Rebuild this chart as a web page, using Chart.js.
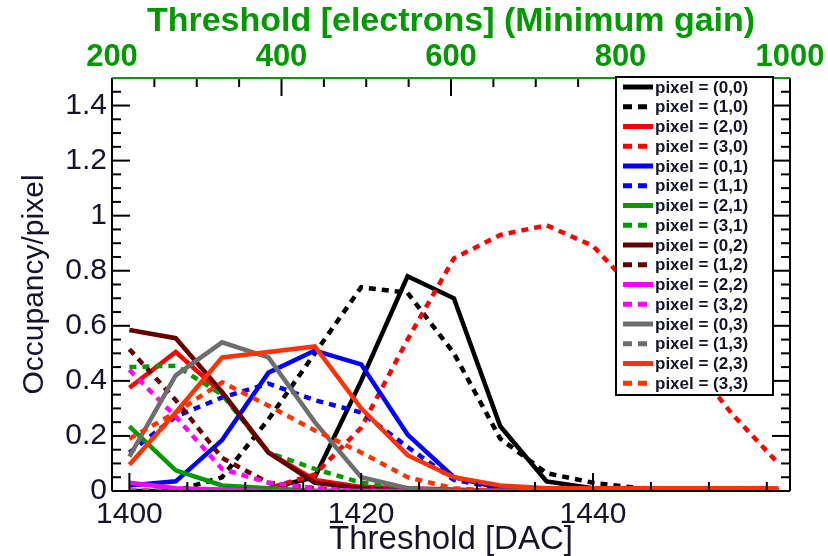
<!DOCTYPE html>
<html>
<head>
<meta charset="utf-8">
<title>Occupancy vs threshold</title>
<script src="https://cdn.jsdelivr.net/npm/chart.js@4.4.1/dist/chart.umd.min.js"></script>
<style>
  html, body { margin: 0; padding: 0; background: #ffffff; }
  #wrap { width: 828px; height: 556px; }
</style>
</head>
<body>
<div id="wrap"><canvas id="occChart" width="828" height="556"></canvas></div>
<script>
/* ===== Data ===== */
const thresholdDac = [1400, 1404, 1408, 1412, 1416, 1420, 1424, 1428, 1432, 1436, 1440, 1444, 1448, 1452, 1456];

const dacTicks = [1400, 1420, 1440];
const electronTicks = [200, 400, 600, 800, 1000];
const occupancyTicks = [0, 0.2, 0.4, 0.6, 0.8, 1, 1.2, 1.4];

const pixel00 = [0, 0, 0, 0.01, 0.05, 0.40, 0.78, 0.70, 0.235, 0.035, 0.01, 0.005, 0.005, 0.005, 0.005];
const pixel10 = [0, 0, 0.05, 0.26, 0.50, 0.74, 0.72, 0.50, 0.19, 0.065, 0.03, 0.01, 0.005, 0, 0];
const pixel20 = [0.375, 0.505, 0.355, 0.14, 0.04, 0.015, 0.01, 0.005, 0, 0, 0, 0, 0, 0, 0];
const pixel30 = [0, 0, 0, 0.01, 0.06, 0.23, 0.55, 0.845, 0.93, 0.965, 0.89, 0.71, 0.49, 0.28, 0.10];
const pixel01 = [0.02, 0.035, 0.185, 0.43, 0.51, 0.46, 0.205, 0.05, 0.01, 0, 0, 0, 0, 0, 0];
const pixel11 = [0.14, 0.27, 0.34, 0.39, 0.33, 0.285, 0.16, 0.04, 0.01, 0, 0, 0, 0, 0, 0];
const pixel21 = [0.235, 0.075, 0.02, 0.01, 0, 0, 0, 0, 0, 0, 0, 0, 0, 0, 0];
const pixel31 = [0.45, 0.455, 0.35, 0.14, 0.08, 0.03, 0.01, 0, 0, 0, 0, 0, 0, 0, 0];
const pixel02 = [0.585, 0.555, 0.36, 0.14, 0.03, 0.01, 0, 0, 0, 0, 0, 0, 0, 0, 0];
const pixel12 = [0.515, 0.33, 0.12, 0.03, 0.01, 0, 0, 0, 0, 0, 0, 0, 0, 0, 0];
const pixel22 = [0.03, 0.01, 0.005, 0, 0, 0, 0, 0, 0, 0, 0, 0, 0, 0, 0];
const pixel32 = [0.44, 0.27, 0.08, 0.03, 0.01, 0, 0, 0, 0, 0, 0, 0, 0, 0, 0];
const pixel03 = [0.125, 0.42, 0.54, 0.485, 0.25, 0.05, 0.01, 0, 0, 0, 0, 0, 0, 0, 0];
const pixel13 = [0, 0, 0, 0, 0, 0, 0, 0, 0, 0, 0, 0, 0, 0, 0];
const pixel23 = [0.095, 0.285, 0.485, 0.505, 0.525, 0.30, 0.13, 0.05, 0.02, 0.01, 0.01, 0.01, 0.01, 0.01, 0.01];
const pixel33 = [0.19, 0.285, 0.395, 0.31, 0.22, 0.14, 0.05, 0.01, 0, 0, 0, 0, 0, 0, 0];

/* ===== Styles ===== */
const FONT = "'Liberation Sans', Arial, sans-serif";
const GREEN = "#009a00";
const TEXT = "#14142b";

const series = [
  { label: "pixel = (0,0)", values: pixel00, color: "#000000", dotted: false },
  { label: "pixel = (1,0)", values: pixel10, color: "#000000", dotted: true },
  { label: "pixel = (2,0)", values: pixel20, color: "#ff0000", dotted: false },
  { label: "pixel = (3,0)", values: pixel30, color: "#ff0000", dotted: true },
  { label: "pixel = (0,1)", values: pixel01, color: "#0000ff", dotted: false },
  { label: "pixel = (1,1)", values: pixel11, color: "#0000ff", dotted: true },
  { label: "pixel = (2,1)", values: pixel21, color: "#009900", dotted: false },
  { label: "pixel = (3,1)", values: pixel31, color: "#009900", dotted: true },
  { label: "pixel = (0,2)", values: pixel02, color: "#660000", dotted: false },
  { label: "pixel = (1,2)", values: pixel12, color: "#660000", dotted: true },
  { label: "pixel = (2,2)", values: pixel22, color: "#ff00ff", dotted: false },
  { label: "pixel = (3,2)", values: pixel32, color: "#ff00ff", dotted: true },
  { label: "pixel = (0,3)", values: pixel03, color: "#6e6e6e", dotted: false },
  { label: "pixel = (1,3)", values: pixel13, color: "#6e6e6e", dotted: true },
  { label: "pixel = (2,3)", values: pixel23, color: "#ff3300", dotted: false },
  { label: "pixel = (3,3)", values: pixel33, color: "#ff3300", dotted: true },
];

const datasets = series.map((s, i) => ({
  label: s.label,
  data: thresholdDac.map((dac, k) => ({ x: dac, y: s.values[k] })),
  borderColor: s.color,
  backgroundColor: s.color,
  borderWidth: 4.5,
  borderDash: s.dotted ? [7, 6] : [],
  pointRadius: 0,
  tension: 0,
  fill: false,
  order: series.length - i, // later pixels on top, like ROOT
}));

/* ===== Helpers ===== */
function stepValues(min, max, step) {
  const out = [];
  for (let v = Math.ceil(min / step - 1e-9) * step; v <= max + 1e-9; v += step) out.push(v);
  return out;
}

function isMajor(v, step) {
  const r = Math.abs(v / step - Math.round(v / step));
  return r < 1e-6;
}

function line(ctx, x1, y1, x2, y2) {
  ctx.beginPath();
  ctx.moveTo(x1, y1);
  ctx.lineTo(x2, y2);
  ctx.stroke();
}

/* ===== Plugins ===== */
// ROOT-style frame with ticks pointing inward
const frameTicks = {
  id: "frameTicks",
  afterDatasetsDraw(chart) {
    const { ctx, chartArea, scales } = chart;
    const { left, right, top, bottom } = chartArea;
    const MAJ = 18, MIN = 9;
    ctx.save();
    ctx.lineWidth = 2;
    ctx.strokeStyle = "#000000";

    stepValues(scales.x.min, scales.x.max, 5).forEach((v) => {
      const px = scales.x.getPixelForValue(v);
      line(ctx, px, bottom, px, bottom - (isMajor(v, 20) ? MAJ : MIN));
    });
    stepValues(scales.x2.min, scales.x2.max, 50).forEach((v) => {
      const px = scales.x2.getPixelForValue(v);
      line(ctx, px, top, px, top + (isMajor(v, 200) ? MAJ : MIN));
    });
    stepValues(scales.y.min, scales.y.max, 0.05).forEach((v) => {
      const py = scales.y.getPixelForValue(v);
      const len = isMajor(v, 0.2) ? MAJ : MIN;
      line(ctx, left, py, left + len, py);
      line(ctx, right, py, right - len, py);
    });

    line(ctx, left, top, left, bottom);
    line(ctx, left, bottom, right, bottom);
    line(ctx, right, top, right, bottom);
    ctx.strokeStyle = GREEN;
    line(ctx, left, top, right, top);
    ctx.restore();
  },
};

// legend box inside the frame, top right
const boxLegend = {
  id: "boxLegend",
  afterDraw(chart) {
    const { ctx } = chart;
    const x0 = 616, y0 = 77, w = 157, rowH = 19.75;
    const items = chart.data.datasets;
    const h = rowH * items.length + 2;
    ctx.save();
    ctx.fillStyle = "#ffffff";
    ctx.fillRect(x0, y0, w, h);
    ctx.lineWidth = 2;
    ctx.strokeStyle = "#000000";
    ctx.strokeRect(x0, y0, w, h);
    ctx.font = `bold 17px ${FONT}`;
    ctx.textBaseline = "middle";
    items.forEach((ds, i) => {
      const cy = y0 + 10 + i * rowH;
      ctx.strokeStyle = ds.borderColor;
      ctx.lineWidth = 5;
      ctx.setLineDash(ds.borderDash.length ? [9, 6] : []);
      line(ctx, 623, cy, 653, cy);
      ctx.setLineDash([]);
      ctx.fillStyle = TEXT;
      ctx.fillText(ds.label, 655, cy + 1);
    });
    ctx.restore();
  },
};

/* ===== Chart ===== */
const canvas = document.getElementById("occChart");
const occChart = new Chart(canvas.getContext("2d"), {
  type: "line",
  data: { datasets },
  options: {
    responsive: false,
    animation: false,
    devicePixelRatio: 1,
    layout: { padding: { left: 0, right: 38, top: 0, bottom: 0 } },
    plugins: { legend: { display: false }, tooltip: { enabled: false } },
    scales: {
      x: {
        type: "linear",
        position: "bottom",
        min: 1398.5,
        max: 1457,
        grid: { display: false, drawTicks: false },
        border: { display: false },
        afterBuildTicks: (s) => { s.ticks = dacTicks.map((v) => ({ value: v })); },
        afterFit: (s) => { s.height = 65; },
        ticks: {
          autoSkip: false,
          maxRotation: 0,
          padding: 6,
          color: TEXT,
          font: { family: FONT, size: 30 },
          callback: (v) => String(v),
        },
        title: {
          display: true,
          text: "Threshold [DAC]",
          color: TEXT,
          font: { family: FONT, size: 33, lineHeight: 1 },
          padding: 0,
        },
      },
      x2: {
        type: "linear",
        position: "top",
        min: 200,
        max: 1000,
        grid: { display: false, drawTicks: false },
        border: { display: false },
        afterBuildTicks: (s) => { s.ticks = electronTicks.map((v) => ({ value: v })); },
        afterFit: (s) => { s.height = 78; },
        ticks: {
          autoSkip: false,
          maxRotation: 0,
          padding: 2,
          color: GREEN,
          font: { family: FONT, size: 31, weight: "bold" },
          callback: (v) => String(v),
        },
        title: {
          display: true,
          text: "Threshold [electrons] (Minimum gain)",
          color: GREEN,
          font: { family: FONT, size: 34, weight: "bold", lineHeight: 1.2 },
          padding: { top: 1, bottom: 0 },
        },
      },
      y: {
        type: "linear",
        position: "left",
        min: 0,
        max: 1.5,
        grid: { display: false, drawTicks: false },
        border: { display: false },
        afterBuildTicks: (s) => { s.ticks = occupancyTicks.map((v) => ({ value: v })); },
        afterFit: (s) => { s.width = 112; },
        ticks: {
          padding: 5,
          color: TEXT,
          font: { family: FONT, size: 30 },
          callback: (v) => String(v),
        },
        title: {
          display: true,
          text: "Occupancy/pixel",
          color: TEXT,
          font: { family: FONT, size: 30, lineHeight: 1.2 },
          padding: { top: 17, bottom: 0 },
        },
      },
    },
  },
  plugins: [frameTicks, boxLegend],
});
</script>
</body>
</html>
